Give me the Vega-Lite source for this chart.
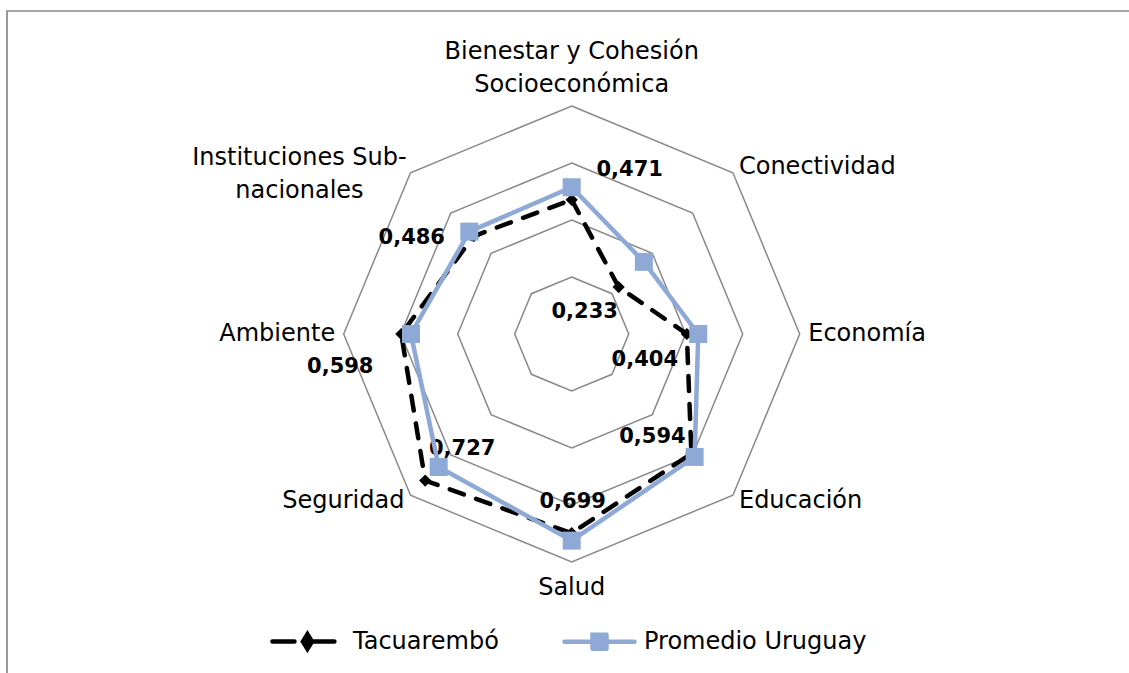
{
  "$schema": "https://vega.github.io/schema/vega-lite/v6.json",
  "autosize": "none",
  "width": 1132,
  "height": 672,
  "padding": {"left": 7, "top": 11, "right": 0, "bottom": 0},
  "background": "white",
  "config": {
    "view": {"stroke": "#898989", "strokeWidth": 1.7},
    "font": "DejaVu Sans",
    "locale": {"number": {"decimal": ",", "thousands": ".", "grouping": [3], "currency": ["", ""]}}
  },
  "datasets": {
    "scores": [
      {"k": 0, "dimension": "Bienestar y Cohesión Socioeconómica", "series": "Tacuarembó", "value": 0.471},
      {"k": 1, "dimension": "Conectividad", "series": "Tacuarembó", "value": 0.233},
      {"k": 2, "dimension": "Economía", "series": "Tacuarembó", "value": 0.404},
      {"k": 3, "dimension": "Educación", "series": "Tacuarembó", "value": 0.594},
      {"k": 4, "dimension": "Salud", "series": "Tacuarembó", "value": 0.699},
      {"k": 5, "dimension": "Seguridad", "series": "Tacuarembó", "value": 0.727},
      {"k": 6, "dimension": "Ambiente", "series": "Tacuarembó", "value": 0.598},
      {"k": 7, "dimension": "Instituciones Sub-nacionales", "series": "Tacuarembó", "value": 0.486},
      {"k": 0, "dimension": "Bienestar y Cohesión Socioeconómica", "series": "Promedio Uruguay", "value": 0.515},
      {"k": 1, "dimension": "Conectividad", "series": "Promedio Uruguay", "value": 0.358},
      {"k": 2, "dimension": "Economía", "series": "Promedio Uruguay", "value": 0.444},
      {"k": 3, "dimension": "Educación", "series": "Promedio Uruguay", "value": 0.61},
      {"k": 4, "dimension": "Salud", "series": "Promedio Uruguay", "value": 0.725},
      {"k": 5, "dimension": "Seguridad", "series": "Promedio Uruguay", "value": 0.66},
      {"k": 6, "dimension": "Ambiente", "series": "Promedio Uruguay", "value": 0.564},
      {"k": 7, "dimension": "Instituciones Sub-nacionales", "series": "Promedio Uruguay", "value": 0.508}
    ],
    "dims": [
      {"k": 0, "name": "Bienestar y Cohesión\nSocioeconómica"},
      {"k": 1, "name": "Conectividad"},
      {"k": 2, "name": "Economía"},
      {"k": 3, "name": "Educación"},
      {"k": 4, "name": "Salud"},
      {"k": 5, "name": "Seguridad"},
      {"k": 6, "name": "Ambiente"},
      {"k": 7, "name": "Instituciones Sub-\nnacionales"}
    ],
    "rings": [
      {"level": 0.2, "ks": [0, 1, 2, 3, 4, 5, 6, 7]},
      {"level": 0.4, "ks": [0, 1, 2, 3, 4, 5, 6, 7]},
      {"level": 0.6, "ks": [0, 1, 2, 3, 4, 5, 6, 7]},
      {"level": 0.8, "ks": [0, 1, 2, 3, 4, 5, 6, 7]}
    ]
  },
  "encoding": {
    "x": {"field": "px", "type": "quantitative", "scale": {"domain": [-1.9814, 1.99053], "zero": false, "nice": false}, "axis": null},
    "y": {"field": "py", "type": "quantitative", "scale": {"domain": [-1.22456, 1.13333], "zero": false, "nice": false}, "axis": null}
  },
  "layer": [
    {
      "data": {"name": "rings"},
      "transform": [
        {"flatten": ["ks"], "as": ["k"]},
        {"calculate": "datum.level * sin(datum.k * PI / 4)", "as": "px"},
        {"calculate": "datum.level * cos(datum.k * PI / 4)", "as": "py"}
      ],
      "mark": {"type": "line", "interpolate": "linear-closed", "color": "#898989", "strokeWidth": 1.5},
      "encoding": {"detail": {"field": "level"}, "order": {"field": "k"}}
    },
    {
      "data": {"name": "scores"},
      "transform": [
        {"filter": "datum.series === 'Tacuarembó'"},
        {"calculate": "datum.value * sin(datum.k * PI / 4)", "as": "px"},
        {"calculate": "datum.value * cos(datum.k * PI / 4)", "as": "py"}
      ],
      "layer": [
        {
          "mark": {"type": "line", "interpolate": "linear-closed", "strokeWidth": 4.5, "strokeDash": [15, 13], "strokeCap": "round"},
          "encoding": {
            "order": {"field": "k"},
            "color": {
              "field": "series", "type": "nominal",
              "scale": {"domain": ["Tacuarembó", "Promedio Uruguay"], "range": ["#000000", "#8EA9D6"]},
              "legend": {
                "orient": "none", "legendX": 264, "legendY": 593, "direction": "horizontal",
                "title": null, "padding": 0, "symbolSize": 4900, "symbolStrokeWidth": 4.5,
                "labelFont": "DejaVu Sans", "labelFontSize": 24, "labelColor": "#000000",
                "labelOffset": 7, "labelLimit": 400, "columnPadding": 56,
                "encode": {
                  "symbols": {
                    "update": {
                      "shape": {"signal": "datum.value === 'Tacuarembó' ? 'M-1.03,0H-0.4M-0.03,0H0.74M-0.03,-0.21L0.1,0L-0.03,0.21L-0.16,0Z' : 'M-1,0H1M-0.2,-0.2H0.2V0.2H-0.2Z'"},
                      "fill": {"signal": "datum.value === 'Tacuarembó' ? '#000000' : '#8EA9D6'"},
                      "stroke": {"signal": "datum.value === 'Tacuarembó' ? '#000000' : '#8EA9D6'"},
                      "strokeWidth": {"value": 4.5},
                      "strokeDash": {"value": [1, 0]},
                      "strokeCap": {"value": "round"},
                      "opacity": {"value": 1},
                      "fillOpacity": {"value": 1}
                    }
                  }
                }
              }
            }
          }
        },
        {
          "mark": {"type": "point", "shape": "diamond", "filled": true, "size": 150, "color": "#000000", "opacity": 1}
        },
        {"transform": [{"filter": "datum.k === 0"}], "mark": {"type": "text", "font": "DejaVu Sans", "fontWeight": "bold", "fontSize": 21, "color": "#000000", "align": "center", "baseline": "middle", "dx": 58, "dy": -30}, "encoding": {"text": {"field": "value", "type": "quantitative", "format": ".3f"}}},
        {"transform": [{"filter": "datum.k === 1"}], "mark": {"type": "text", "font": "DejaVu Sans", "fontWeight": "bold", "fontSize": 21, "color": "#000000", "align": "center", "baseline": "middle", "dx": -34, "dy": 25}, "encoding": {"text": {"field": "value", "type": "quantitative", "format": ".3f"}}},
        {"transform": [{"filter": "datum.k === 2"}], "mark": {"type": "text", "font": "DejaVu Sans", "fontWeight": "bold", "fontSize": 21, "color": "#000000", "align": "center", "baseline": "middle", "dx": -42, "dy": 26}, "encoding": {"text": {"field": "value", "type": "quantitative", "format": ".3f"}}},
        {"transform": [{"filter": "datum.k === 3"}], "mark": {"type": "text", "font": "DejaVu Sans", "fontWeight": "bold", "fontSize": 21, "color": "#000000", "align": "center", "baseline": "middle", "dx": -39, "dy": -17}, "encoding": {"text": {"field": "value", "type": "quantitative", "format": ".3f"}}},
        {"transform": [{"filter": "datum.k === 4"}], "mark": {"type": "text", "font": "DejaVu Sans", "fontWeight": "bold", "fontSize": 21, "color": "#000000", "align": "center", "baseline": "middle", "dx": 1, "dy": -31}, "encoding": {"text": {"field": "value", "type": "quantitative", "format": ".3f"}}},
        {"transform": [{"filter": "datum.k === 5"}], "mark": {"type": "text", "font": "DejaVu Sans", "fontWeight": "bold", "fontSize": 21, "color": "#000000", "align": "center", "baseline": "middle", "dx": 37, "dy": -32}, "encoding": {"text": {"field": "value", "type": "quantitative", "format": ".3f"}}},
        {"transform": [{"filter": "datum.k === 6"}], "mark": {"type": "text", "font": "DejaVu Sans", "fontWeight": "bold", "fontSize": 21, "color": "#000000", "align": "center", "baseline": "middle", "dx": -61, "dy": 33}, "encoding": {"text": {"field": "value", "type": "quantitative", "format": ".3f"}}},
        {"transform": [{"filter": "datum.k === 7"}], "mark": {"type": "text", "font": "DejaVu Sans", "fontWeight": "bold", "fontSize": 21, "color": "#000000", "align": "center", "baseline": "middle", "dx": -62, "dy": 2}, "encoding": {"text": {"field": "value", "type": "quantitative", "format": ".3f"}}}
      ]
    },
    {
      "data": {"name": "scores"},
      "transform": [
        {"filter": "datum.series === 'Promedio Uruguay'"},
        {"calculate": "datum.value * sin(datum.k * PI / 4)", "as": "px"},
        {"calculate": "datum.value * cos(datum.k * PI / 4)", "as": "py"}
      ],
      "layer": [
        {
          "mark": {"type": "line", "interpolate": "linear-closed", "strokeWidth": 4.5, "color": "#8EA9D6", "strokeJoin": "round"},
          "encoding": {"order": {"field": "k"}}
        },
        {
          "mark": {"type": "point", "shape": "square", "filled": true, "size": 324, "color": "#8EA9D6", "opacity": 1}
        }
      ]
    },
    {
      "data": {"name": "dims"},
      "transform": [
        {"calculate": "0.83 * sin(datum.k * PI / 4)", "as": "px"},
        {"calculate": "0.83 * cos(datum.k * PI / 4)", "as": "py"}
      ],
      "layer": [
        {"transform": [{"filter": "datum.k === 0"}], "mark": {"type": "text", "font": "DejaVu Sans", "fontSize": 24, "color": "#000000", "lineBreak": "\n", "lineHeight": 33, "align": "center", "baseline": "middle", "dy": -45.5}, "encoding": {"text": {"field": "name"}}},
        {"transform": [{"filter": "datum.k >= 1 && datum.k <= 3"}], "mark": {"type": "text", "font": "DejaVu Sans", "fontSize": 24, "color": "#000000", "align": "left", "baseline": "middle"}, "encoding": {"text": {"field": "name"}}},
        {"transform": [{"filter": "datum.k === 4"}], "mark": {"type": "text", "font": "DejaVu Sans", "fontSize": 24, "color": "#000000", "align": "center", "baseline": "middle", "dy": 17.5}, "encoding": {"text": {"field": "name"}}},
        {"transform": [{"filter": "datum.k === 5 || datum.k === 6"}], "mark": {"type": "text", "font": "DejaVu Sans", "fontSize": 24, "color": "#000000", "align": "right", "baseline": "middle"}, "encoding": {"text": {"field": "name"}}},
        {"transform": [{"filter": "datum.k === 7"}], "mark": {"type": "text", "font": "DejaVu Sans", "fontSize": 24, "color": "#000000", "lineBreak": "\n", "lineHeight": 33, "align": "center", "baseline": "middle", "dx": -105, "dy": -8.5}, "encoding": {"text": {"field": "name"}}}
      ]
    }
  ]
}
